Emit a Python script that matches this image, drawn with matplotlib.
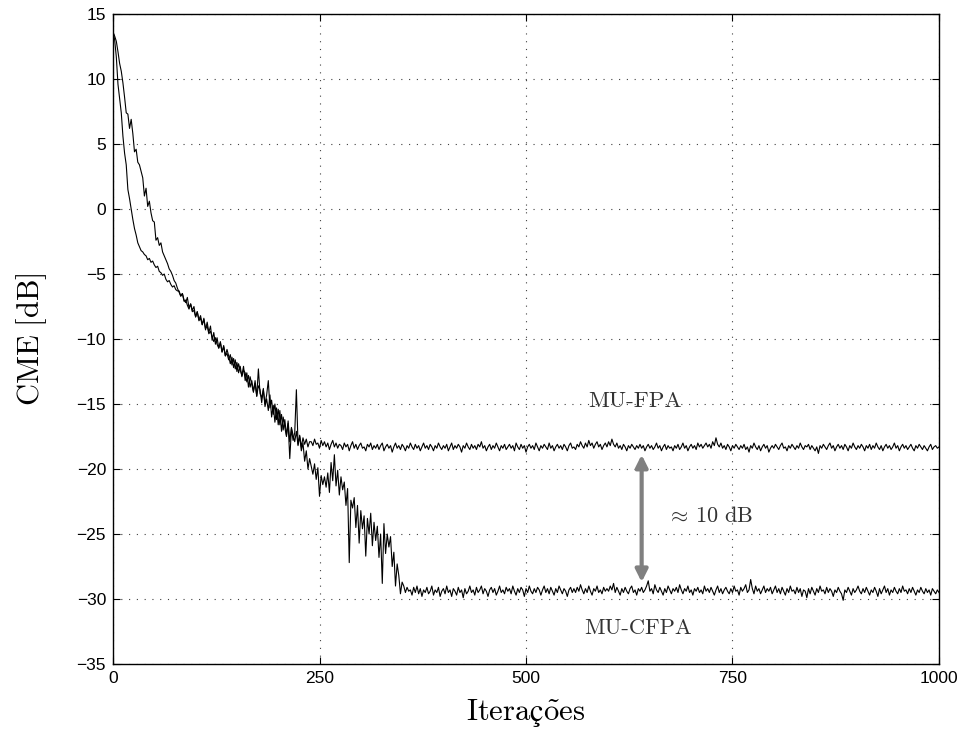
import numpy as np
import matplotlib
matplotlib.use("Agg")
import matplotlib.pyplot as plt

plt.rcParams['mathtext.fontset'] = 'cm'
plt.rcParams['font.family'] = ['Liberation Sans', 'DejaVu Sans']

# MU-FPA learning curve: iterations 0..1000 every 2
fpa_head = [
    13.7, 13.0, 11.7, 9.6, 8.5, 7.4, 5.6, 4.3, 3.4, 1.5,
    0.8, 0.0, -0.8, -1.5, -2.0, -2.6, -2.9, -3.2, -3.3, -3.5,
    -3.6, -3.9, -3.8, -4.1, -4.0, -4.3, -4.5, -4.4, -4.8, -4.9,
    -5.1, -5.0, -5.4, -5.6, -5.5, -5.8, -6.0, -5.9, -6.2, -6.3,
    -6.3, -6.7, -6.5, -7.0, -7.2, -6.8, -7.6, -7.3, -7.8, -7.5,
    -8.3, -7.9, -8.5, -8.2, -8.9, -8.4, -9.3, -8.7, -9.5, -9.0,
    -10.1, -9.5, -10.4, -9.9, -10.7, -10.2, -11.0, -10.5, -11.3, -10.8,
    -11.3, -11.9, -11.4, -12.2, -11.6, -12.5, -11.9, -12.4, -12.8, -12.1,
    -13.2, -12.6, -13.7, -12.9, -13.5, -14.1, -13.2, -14.4, -13.6, -13.9,
    -14.9, -13.8, -15.2, -14.6, -15.5, -14.3, -16.0, -15.1, -16.4, -15.3,
    -16.6, -15.5, -17.1, -16.0, -16.8, -17.5, -16.3, -17.9, -16.8, -17.4,
    -17.9, -17.1, -18.2, -17.4, -18.3, -17.6, -18.1, -17.7, -18.3, -17.9,
]
fpa_tail = [
    -17.9, -18.2, -17.7, -18.1, -18.0, -18.4, -17.8, -18.2, -17.9, -18.3,
    -18.0, -18.5, -18.1, -17.8, -18.3, -18.0, -18.4, -18.1, -18.2, -18.5,
    -18.0, -18.3, -18.1, -18.6, -18.2, -17.9, -18.4, -18.1, -18.5, -18.2,
    -18.0, -18.4, -18.3, -18.6, -18.1, -18.3, -18.0, -18.5, -18.2, -18.4,
    -18.1, -18.5, -18.2, -18.0, -18.6, -18.3, -18.1, -18.4, -18.2, -18.7,
    -18.3, -18.0, -18.4, -18.2, -18.5, -18.1, -18.3, -18.6, -18.2, -18.4,
    -18.0, -18.3, -18.5, -18.1, -18.4, -18.2, -18.6, -18.3, -18.0, -18.4,
    -18.2, -18.5, -18.1, -18.3, -18.6, -18.2, -18.4, -18.0, -18.3, -18.5,
    -18.2, -18.4, -18.1, -18.6, -18.3, -18.0, -18.5, -18.2, -18.4, -18.1,
    -18.3, -18.7, -18.2, -18.4, -18.0, -18.3, -18.5, -18.1, -18.4, -18.2,
    -18.5, -18.1, -18.3, -17.9, -18.4, -18.2, -18.6, -18.3, -18.1, -18.5,
    -18.2, -18.4, -18.0, -18.3, -18.6, -18.2, -18.4, -18.1, -18.5, -18.3,
    -18.1, -18.4, -18.2, -18.6, -18.0, -18.3, -18.5, -18.1, -18.4, -18.2,
    -18.7, -18.3, -18.1, -18.4, -18.2, -18.5, -18.0, -18.3, -18.6, -18.2,
    -18.4, -18.1, -18.3, -18.5, -18.0, -18.4, -18.2, -18.6, -18.3, -18.1,
    -18.4, -18.2, -18.5, -18.1, -18.3, -18.6, -18.2, -18.0, -18.4, -18.3,
    -18.5, -18.1, -18.3, -17.9, -18.2, -18.4, -18.0, -18.3, -17.8, -18.2,
    -18.0, -18.4, -18.1, -17.9, -18.3, -18.1, -18.5, -18.2, -18.0, -18.3,
    -17.9, -18.2, -17.7, -18.1, -18.3, -18.0, -18.4, -18.2, -18.5, -18.1,
    -18.3, -18.6, -18.2, -18.4, -18.1, -18.3, -18.5, -18.2, -18.4, -18.1,
    -18.4, -18.2, -18.6, -18.3, -18.1, -18.4, -18.2, -18.5, -18.3, -18.0,
    -18.4, -18.2, -18.6, -18.3, -18.1, -18.5, -18.2, -18.4, -18.3, -18.6,
    -18.2, -18.4, -18.1, -18.5, -18.3, -18.0, -18.4, -18.2, -18.6, -18.3,
    -18.1, -18.4, -18.2, -18.5, -18.0, -18.3, -18.1, -18.4, -18.2, -18.0,
    -18.3, -18.1, -18.4, -17.9, -18.2, -17.6, -18.1, -18.3, -18.0, -18.4,
    -18.2, -18.5, -18.1, -18.3, -18.6, -18.2, -18.4, -18.1, -18.3, -18.5,
    -18.2, -18.4, -18.1, -18.5, -18.3, -18.7, -18.2, -18.4, -18.0, -18.3,
    -18.5, -18.2, -18.6, -18.3, -18.1, -18.4, -18.2, -18.7, -18.4, -18.2,
    -18.4, -18.1, -18.3, -18.5, -18.2, -18.0, -18.4, -18.3, -18.6, -18.2,
    -18.4, -18.1, -18.3, -18.5, -18.2, -18.4, -18.0, -18.3, -18.5, -18.2,
    -18.3, -18.1, -18.5, -18.2, -18.4, -18.6, -18.3, -18.8, -18.2, -18.4,
    -18.1, -18.3, -18.5, -18.2, -18.0, -18.4, -18.2, -18.6, -18.3, -18.1,
    -18.4, -18.2, -18.5, -18.1, -18.3, -18.6, -18.2, -18.4, -18.0, -18.3,
    -18.5, -18.2, -18.4, -18.1, -18.3, -18.6, -18.2, -18.4, -18.1, -18.5,
    -18.2, -18.4, -18.0, -18.3, -18.5, -18.2, -18.6, -18.3, -18.1, -18.4,
    -18.2, -18.5, -18.3, -18.0, -18.4, -18.2, -18.6, -18.3, -18.1, -18.4,
    -18.2, -18.5, -18.3, -18.1, -18.4, -18.6, -18.2, -18.4, -18.1, -18.3,
    -18.5, -18.2, -18.4, -18.6, -18.3, -18.1, -18.5, -18.3, -18.2, -18.4,
    -18.3,
]

# MU-CFPA learning curve: iterations 0..1000 every 2
cfpa_head = [
    13.6, 13.3, 12.9, 12.1, 11.2, 10.6, 9.7, 8.6, 7.4, 7.3,
    6.2, 6.9, 5.8, 4.4, 4.6, 3.6, 3.4, 2.9, 2.4, 1.0,
    1.6, 0.2, 0.6, -0.3, -0.9, -1.0, -2.4, -2.2, -2.8, -2.6,
    -3.3, -3.6, -3.9, -4.2, -4.6, -4.8, -5.1, -5.5, -5.7, -6.1,
    -6.4, -6.7, -6.5, -7.1, -7.0, -7.4, -7.7, -7.3, -7.9, -7.8,
    -8.3, -7.9, -8.6, -8.4, -8.9, -8.5, -9.2, -9.0, -9.6, -9.4,
    -9.8, -10.2, -9.9, -10.4, -10.7, -10.3, -11.0, -10.6, -11.3, -11.1,
    -11.6, -11.2, -12.0, -11.5, -12.3, -11.8, -12.6, -12.1, -12.9, -12.4,
    -12.6, -13.3, -12.8, -13.7, -13.2, -14.0, -13.4, -14.4, -12.3, -14.2,
    -14.5, -13.9, -15.0, -14.3, -13.2, -15.3, -14.7, -15.8, -15.0, -16.2,
    -15.4, -16.6, -15.8, -17.0, -16.2, -17.4, -16.5, -19.2, -16.9, -17.8,
    -17.2, -13.9, -18.1, -17.5, -18.6, -18.0, -19.4, -18.6, -20.0, -19.2,
    -19.8, -20.4, -19.6, -20.8, -19.9, -22.1, -20.5, -21.2, -20.6, -21.4,
    -20.3, -21.8, -19.5, -20.9, -18.9, -21.3, -20.1, -22.0, -20.6, -21.6,
    -21.0, -22.8, -21.5, -27.2, -22.4, -23.0, -22.2, -24.5, -22.8, -25.7,
    -23.2, -24.6, -23.6, -26.7, -23.8, -25.0, -23.4, -25.9, -24.1, -25.5,
    -24.4, -26.8, -25.0, -28.8, -24.2, -26.5, -25.0, -26.0, -25.2, -27.5,
    -26.4, -29.0, -27.3, -28.2, -29.6, -28.7, -29.0, -29.5, -29.1, -29.4,
]
cfpa_tail = [
    -29.3, -29.7, -29.1, -29.5, -29.0, -29.6, -29.2, -29.8, -29.3, -29.5,
    -29.1, -29.6, -29.4, -29.0, -29.7, -29.3, -29.5, -29.1, -29.8, -29.4,
    -29.2, -29.6, -29.0, -29.5, -29.3, -29.8, -29.2, -29.4, -29.7, -29.1,
    -29.5, -29.3, -29.9, -29.2, -29.6, -29.4, -29.0, -29.5, -29.3, -29.7,
    -29.1, -29.5, -29.3, -29.0, -29.6, -29.2, -29.4, -29.8, -29.3, -29.1,
    -29.5, -29.2, -29.7, -29.4, -29.0, -29.5, -29.3, -29.6, -29.1, -29.4,
    -29.2, -29.6, -29.0, -29.4, -29.7, -29.2, -29.5, -29.1, -29.3, -29.8,
    -29.2, -29.5, -29.0, -29.4, -29.6, -29.2, -29.5, -29.1, -29.3, -29.7,
    -29.3, -29.0, -29.5, -29.2, -29.6, -29.1, -29.4, -29.7, -29.2, -29.5,
    -29.0, -29.3, -29.6, -29.2, -29.4, -29.8, -29.3, -29.1, -29.5, -29.2,
    -29.5, -29.1, -29.4, -28.9, -29.3, -29.6, -29.2, -29.5, -29.0, -29.4,
    -29.7, -29.2, -29.4, -29.0, -29.5, -29.3, -29.6, -29.1, -29.4, -29.2,
    -29.4, -29.0, -29.3, -28.8, -29.5, -29.1, -29.4, -29.7, -29.2, -29.5,
    -29.1, -29.4, -29.6, -29.2, -29.0, -29.5, -29.3, -29.7, -29.2, -29.4,
    -29.1, -29.5, -29.3, -29.0, -28.6, -29.4, -29.2, -29.6, -28.9, -29.3,
    -29.5, -29.1, -29.4, -29.7, -29.2, -29.5, -29.0, -29.3, -29.6, -29.2,
    -29.4, -29.1, -29.5, -28.9, -29.3, -29.6, -29.2, -29.4, -29.0, -29.5,
    -29.3, -29.7, -29.2, -29.4, -29.1, -29.5, -29.3, -29.6, -29.0, -29.4,
    -29.2, -29.5, -29.1, -29.4, -29.7, -29.3, -29.0, -29.5, -29.2, -29.6,
    -29.3, -29.1, -29.4, -29.6, -29.2, -29.5, -29.0, -29.4, -29.3, -29.7,
    -29.1, -29.4, -29.2, -28.9, -29.5, -29.3, -28.5, -29.2, -29.6, -29.0,
    -29.4, -29.2, -29.6, -29.3, -29.0, -29.5, -29.2, -29.4, -29.1, -29.6,
    -29.3, -29.0, -29.5, -29.2, -29.6, -29.1, -29.4, -29.7, -29.2, -29.5,
    -29.0, -29.4, -29.3, -29.6, -29.1, -29.5, -29.2, -29.8, -29.3, -29.4,
    -29.9, -29.2, -29.6, -29.1, -29.4, -29.7, -29.2, -29.5, -29.0, -29.4,
    -29.3, -29.6, -29.1, -29.5, -29.2, -29.4, -29.8, -29.3, -29.5, -29.1,
    -29.4, -29.6, -30.1, -29.3, -29.5, -29.1, -29.4, -29.7, -29.2, -29.5,
    -29.3, -29.0, -29.4, -29.6, -29.2, -29.5, -29.1, -29.4, -29.7, -29.3,
    -29.5, -29.1, -29.4, -29.8, -29.2, -29.6, -29.3, -29.0, -29.5, -29.2,
    -29.7, -29.3, -29.5, -29.1, -29.4, -29.6, -29.2, -29.5, -29.0, -29.4,
    -29.3, -29.6, -29.2, -29.5, -29.1, -29.4, -29.7, -29.3, -29.5, -29.1,
    -29.4, -29.6, -29.2, -29.5, -29.3, -29.7, -29.2, -29.4, -29.6, -29.3,
    -29.5,
]

x_ticks = [0, 250, 500, 750, 1000]
y_ticks = [-35, -30, -25, -20, -15, -10, -5, 0, 5, 10, 15]
gap_top, gap_bottom = -18.9, -28.7   # ends of the gap arrow (dB)
gap_iter = 640


def iterations(head, tail, step):
    n = np.arange(len(head) + len(tail)) * step
    return n, np.concatenate([head, tail])


it_fpa, mse_fpa = iterations(fpa_head, fpa_tail, 2)
it_cfpa, mse_cfpa = iterations(cfpa_head, cfpa_tail, 2)

fig = plt.figure(figsize=(9.61, 7.46), dpi=100)
ax = fig.add_axes([0.1176, 0.1099, 0.8595, 0.8713])

ax.plot(it_fpa, mse_fpa, color='black', lw=0.8)
ax.plot(it_cfpa, mse_cfpa, color='black', lw=0.8)

ax.set_xlim(0, 1000)
ax.set_ylim(-35, 15)
ax.set_xticks(x_ticks)
ax.set_yticks(y_ticks)
ax.set_xticklabels([str(v) for v in x_ticks])
ax.set_yticklabels([str(v).replace('-', '\u2212') for v in y_ticks])
ax.tick_params(direction='in', length=5, width=0.8, top=True, right=True,
               labelsize=12.5, pad=5)
for s in ax.spines.values():
    s.set_linewidth(1.0)

ax.grid(True, color='0.25', lw=0.8, linestyle=(0, (1, 6)))

ax.set_xlabel(r'$\mathrm{Iteraç\tilde{o}es}$', fontsize=22, labelpad=8)
ax.set_ylabel(r'$\mathrm{CME\ [dB]}$', fontsize=22, labelpad=20)

ax.text(632, -15.2, 'MU-FPA', fontfamily='cmr10', fontsize=16.5,
        ha='center', va='baseline', color='0.2')
ax.text(636, -32.7, 'MU-CFPA', fontfamily='cmr10', fontsize=16.2,
        ha='center', va='baseline', color='0.2')
ax.text(723, -24.1, r'$\approx\,\mathrm{10\ dB}$', fontsize=16, ha='center',
        va='baseline', color='0.2')

ax.annotate('', xy=(gap_iter, gap_top), xytext=(gap_iter, gap_bottom),
            arrowprops=dict(arrowstyle='<|-|>', color='#808080', lw=3,
                            mutation_scale=18, shrinkA=0, shrinkB=0))

fig.savefig('out.png', dpi=100)
